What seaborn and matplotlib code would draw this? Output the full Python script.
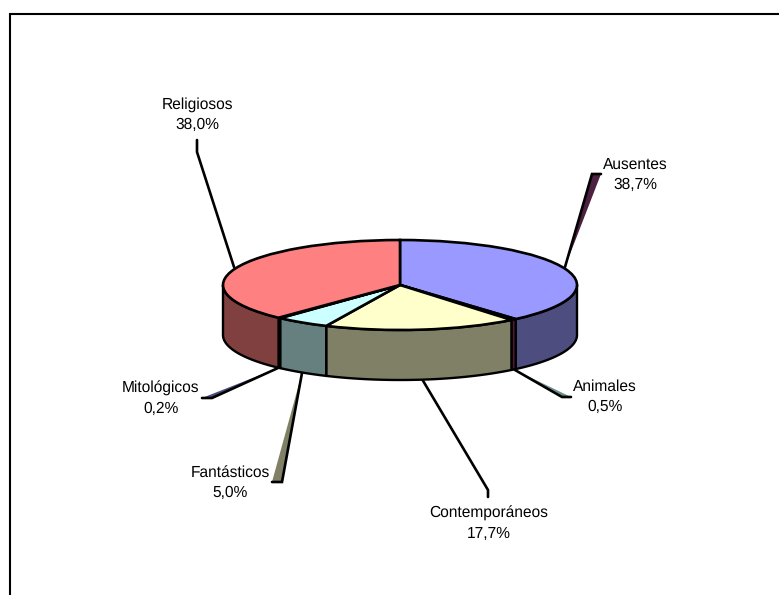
import numpy as np
import matplotlib
matplotlib.use("Agg")
import matplotlib.pyplot as plt
from matplotlib.colors import to_rgb
from matplotlib.patches import Polygon
from matplotlib.transforms import Affine2D
import seaborn as sns

categories = ["Ausentes", "Animales", "Contemporáneos", "Fantásticos", "Mitológicos", "Religiosos"]
values = [38.7, 0.5, 17.7, 5.0, 0.2, 38.0]
value_labels = ["38,7%", "0,5%", "17,7%", "5,0%", "0,2%", "38,0%"]
top_colors = ["#9999FF", "#993366", "#FFFFCC", "#CCFFFF", "#660066", "#FF8080"]

# layout (pixel coordinates of the 779x595 canvas)
W, H = 779, 595
cx, cy, rx, ry, depth = 400, 285, 177, 45, 50
label_pos = [(635, 175), (605, 397), (488.5, 523.5), (230, 482.5), (161, 398.5), (197, 115)]
leaders = [
    [(565, 267), (592, 174), (601, 174)],
    [(515, 370), (562, 397), (571, 397)],
    [(422, 379), (488, 490), (488, 497)],
    [(302, 373), (282, 482), (272, 482)],
    [(278, 368), (212, 398), (202, 398)],
    [(234, 267), (197, 152), (197, 140)],
]
shadow_colors = ["#4D1F40", "#6F8F8F", None, "#808066", "#4D4D80", None]

sns.set_theme(style="white")
plt.rcParams["font.family"] = ["Liberation Sans", "DejaVu Sans"]
plt.rcParams["text.hinting"] = "none"

fig = plt.figure(figsize=(W / 100, H / 100), dpi=100, facecolor="white")
ax = fig.add_axes([0, 0, 1, 1])

# top face of the pie, squashed into an ellipse
wedges, _ = ax.pie(values, colors=top_colors, startangle=90, counterclock=False,
                   wedgeprops=dict(edgecolor="black", linewidth=1.9, zorder=3))
squash = Affine2D().scale(rx, -ry).translate(cx, cy) + ax.transData
for w in wedges:
    w.set_transform(squash)
ax.set_aspect("auto")
ax.set_xlim(0, W)
ax.set_ylim(H, 0)
ax.axis("off")

# side walls: front half only, from the same cumulative angles as the pie
shares = np.array(values) / np.sum(values) * 360
ends = np.cumsum(shares)
starts = ends - shares
for a0, a1, col in zip(starts, ends, top_colors):
    lo, hi = max(a0, 90), min(a1, 270)
    if hi <= lo:
        continue
    t = np.radians(np.linspace(lo, hi, 80))
    x = cx + rx * np.sin(t)
    y = cy - ry * np.cos(t)
    pts = np.r_[np.c_[x, y], np.c_[x, y + depth][::-1]]
    ax.add_patch(Polygon(pts, closed=True, facecolor=tuple(c * 0.5 for c in to_rgb(col)),
                         edgecolor="black", linewidth=1.7, joinstyle="round", zorder=2))

# leader lines with their shaded slivers, and labels
for name, val, pos, path, sh in zip(categories, value_labels, label_pos, leaders, shadow_colors):
    if sh:
        ax.add_patch(Polygon([path[0], path[1], path[2]], closed=True, facecolor=sh,
                             edgecolor="none", zorder=1))
    xs, ys = zip(*path)
    ax.plot(xs, ys, color="black", lw=1.9, solid_joinstyle="miter", zorder=1.5)
    ax.text(pos[0], pos[1], f"{name}\n{val}", ha="center", va="center", fontsize=11.2,
            color="black", linespacing=1.47, zorder=4)

# chart border, cut off by the canvas on the right and bottom
ax.plot([10, 10, W + 5], [H + 5, 14, 14], color="black", lw=1.5, solid_joinstyle="miter",
        clip_on=True, zorder=5)

fig.savefig("out.png", dpi=100, facecolor="white")
